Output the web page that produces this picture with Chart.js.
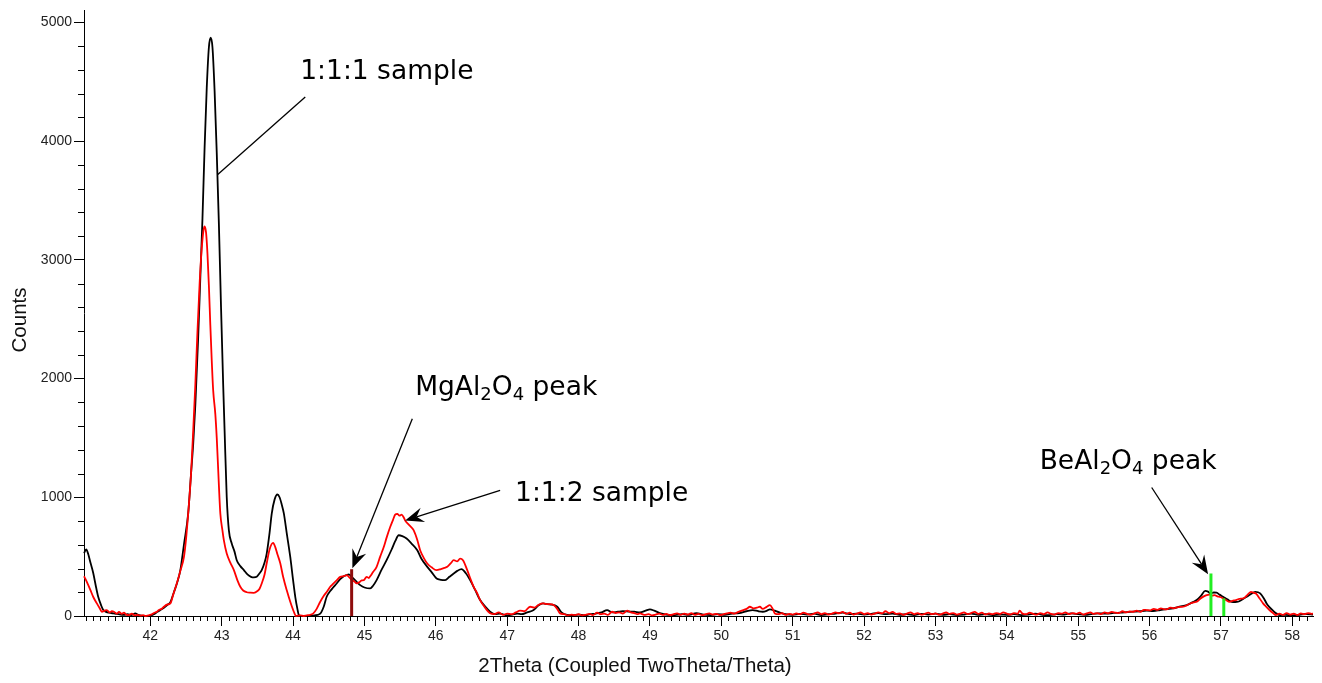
<!DOCTYPE html>
<html>
<head>
<meta charset="utf-8">
<script src="https://cdn.jsdelivr.net/npm/chart.js@4.4.1/dist/chart.umd.min.js"></script>
<style>
  html, body { margin: 0; padding: 0; background: #fff; }
  #wrap { width: 1322px; height: 683px; }
</style>
</head>
<body>
<div id="wrap"><canvas id="xrd"></canvas></div>
<script>
// 1:1:1 sample (black)
const theta111 = [41.07,41.10,41.13,41.16,41.20,41.24,41.27,41.31,41.34,41.38,41.42,41.48,41.53,41.58,41.63,41.68,41.73,41.79,41.82,41.86,41.90,41.95,42.00,42.05,42.10,42.14,42.19,42.24,42.28,42.33,42.38,42.42,42.47,42.53,42.57,42.60,42.63,42.67,42.70,42.73,42.76,42.79,42.82,42.845,42.87,42.90,42.93,42.96,42.99,43.02,43.04,43.07,43.10,43.14,43.18,43.21,43.26,43.31,43.36,43.41,43.45,43.49,43.53,43.56,43.60,43.63,43.67,43.70,43.74,43.78,43.81,43.84,43.87,43.91,43.96,44.00,44.03,44.06,44.08,44.12,44.20,44.30,44.38,44.43,44.47,44.52,44.56,44.61,44.66,44.71,44.75,44.78,44.82,44.87,44.94,45.00,45.08,45.12,45.17,45.24,45.31,45.38,45.43,45.48,45.53,45.59,45.66,45.74,45.80,45.88,45.94,46.01,46.07,46.13,46.19,46.25,46.30,46.36,46.42,46.48,46.55,46.62,46.69,46.76,46.83,46.90,47.00,47.07,47.14,47.20,47.28,47.37,47.44,47.50,47.56,47.63,47.70,47.76,47.84,47.92,48.00,48.08,48.16,48.24,48.32,48.40,48.47,48.55,48.62,48.70,48.78,48.86,48.94,49.00,49.06,49.15,49.25,49.35,49.45,49.55,49.65,49.75,49.85,49.95,50.05,50.15,50.25,50.35,50.44,50.52,50.58,50.64,50.68,50.75,50.82,50.90,51.00,51.10,51.20,51.30,51.40,51.50,51.60,51.70,51.80,51.90,52.00,52.10,52.20,52.30,52.40,52.50,52.60,52.70,52.80,52.90,53.00,53.10,53.20,53.30,53.40,53.50,53.60,53.70,53.80,53.90,54.00,54.10,54.20,54.30,54.40,54.50,54.60,54.70,54.80,54.90,55.00,55.10,55.20,55.30,55.40,55.50,55.59,55.68,55.77,55.86,55.96,56.05,56.15,56.24,56.33,56.42,56.52,56.60,56.66,56.72,56.78,56.82,56.85,56.90,56.94,56.98,57.03,57.09,57.15,57.20,57.24,57.30,57.36,57.42,57.48,57.52,57.55,57.60,57.64,57.68,57.73,57.78,57.83,57.90,58.00,58.10,58.20,58.29];
const counts111 = [528,560,520,450,360,240,160,90,50,35,28,22,18,12,10,15,8,22,12,5,0,0,2,15,35,50,70,95,117,200,290,386,600,864,1200,1450,1780,2350,2850,3350,3950,4450,4790,4870,4790,4420,3900,3300,2600,1950,1560,1000,721,610,540,470,420,386,350,330,325,330,360,386,450,526,700,861,980,1023,1000,940,864,700,497,300,162,60,8,0,0,5,20,80,162,210,240,274,310,335,344,350,330,300,260,240,232,255,302,390,470,560,630,680,672,652,610,554,480,414,370,316,305,302,330,358,380,394,360,302,220,134,80,36,15,20,5,12,20,15,30,50,90,106,100,95,78,30,10,8,12,5,15,20,30,50,30,36,40,38,36,30,45,56,45,22,10,8,15,10,25,12,8,15,10,20,25,40,50,40,36,45,56,45,28,15,10,18,12,20,8,15,20,28,15,20,12,18,25,15,20,10,15,8,18,12,20,10,15,8,12,20,10,15,8,12,10,15,8,12,20,10,8,15,12,22,15,10,18,22,20,26,28,32,36,40,45,42,50,58,64,78,92,115,134,170,212,205,190,198,196,180,162,140,120,118,120,140,162,185,204,200,190,150,106,75,45,20,8,10,5,10,17,12];

// 1:1:2 sample (red)
const theta112 = [41.07,41.10,41.13,41.16,41.20,41.25,41.29,41.32,41.36,41.39,41.43,41.46,41.49,41.53,41.56,41.60,41.63,41.66,41.70,41.74,41.78,41.82,41.86,41.90,41.93,41.97,42.01,42.05,42.09,42.12,42.16,42.19,42.23,42.28,42.32,42.37,42.42,42.47,42.50,42.53,42.57,42.60,42.63,42.66,42.69,42.72,42.745,42.76,42.78,42.80,42.82,42.84,42.86,42.88,42.91,42.93,42.96,42.98,43.01,43.03,43.07,43.12,43.17,43.22,43.26,43.30,43.35,43.40,43.45,43.50,43.53,43.56,43.60,43.63,43.67,43.72,43.75,43.78,43.82,43.86,43.91,43.96,44.01,44.04,44.10,44.15,44.22,44.28,44.33,44.38,44.43,44.48,44.52,44.56,44.61,44.66,44.71,44.75,44.78,44.82,44.86,44.89,44.93,44.96,44.99,45.03,45.06,45.08,45.12,45.17,45.22,45.27,45.31,45.36,45.40,45.43,45.46,45.49,45.52,45.55,45.57,45.62,45.66,45.69,45.74,45.78,45.83,45.88,45.94,46.01,46.07,46.12,46.16,46.21,46.25,46.30,46.34,46.38,46.44,46.48,46.53,46.58,46.62,46.69,46.76,46.82,46.88,46.94,47.00,47.06,47.12,47.18,47.24,47.32,47.38,47.44,47.51,47.56,47.60,47.65,47.70,47.74,47.80,47.85,47.90,47.95,48.00,48.05,48.10,48.15,48.20,48.26,48.31,48.36,48.41,48.47,48.52,48.57,48.62,48.68,48.73,48.78,48.82,48.86,48.92,48.98,49.03,49.08,49.13,49.18,49.23,49.28,49.33,49.38,49.43,49.48,49.53,49.58,49.63,49.68,49.73,49.78,49.83,49.88,49.93,49.98,50.03,50.08,50.13,50.18,50.24,50.31,50.36,50.40,50.45,50.50,50.54,50.58,50.63,50.68,50.72,50.75,50.80,50.85,50.90,50.95,51.00,51.05,51.10,51.15,51.20,51.25,51.30,51.35,51.40,51.45,51.50,51.55,51.60,51.65,51.70,51.75,51.80,51.85,51.90,51.95,52.00,52.05,52.10,52.15,52.20,52.25,52.30,52.35,52.40,52.45,52.50,52.55,52.60,52.65,52.70,52.75,52.80,52.85,52.90,52.95,53.00,53.05,53.10,53.15,53.20,53.25,53.30,53.35,53.40,53.45,53.50,53.55,53.60,53.65,53.70,53.75,53.80,53.85,53.90,53.95,54.00,54.05,54.10,54.15,54.18,54.22,54.27,54.32,54.37,54.42,54.47,54.52,54.57,54.62,54.67,54.72,54.77,54.82,54.87,54.92,54.97,55.02,55.07,55.12,55.17,55.22,55.27,55.32,55.37,55.42,55.47,55.52,55.57,55.62,55.67,55.72,55.77,55.82,55.87,55.92,55.96,56.01,56.06,56.11,56.16,56.20,56.24,56.29,56.34,56.40,56.47,56.52,56.57,56.62,56.66,56.71,56.76,56.80,56.84,56.88,56.91,56.95,56.99,57.03,57.07,57.12,57.16,57.21,57.26,57.31,57.36,57.42,57.46,57.49,57.54,57.59,57.64,57.68,57.73,57.77,57.82,57.87,57.92,57.97,58.02,58.07,58.12,58.17,58.22,58.27,58.29];
const counts112 = [335,300,260,218,160,106,65,36,45,50,30,40,36,20,35,18,28,12,8,20,5,10,3,8,0,5,12,25,36,50,62,78,95,106,180,274,380,497,650,864,1200,1560,1950,2400,2800,3100,3250,3280,3230,3050,2780,2450,2150,1900,1700,1500,1100,864,720,637,526,450,386,300,246,215,200,196,195,210,230,274,350,444,560,615,580,520,444,330,218,120,36,0,5,0,8,20,60,120,170,210,246,270,300,330,335,344,330,305,290,274,285,300,302,330,320,335,370,414,500,581,660,749,810,853,860,845,853,830,805,770,745,721,640,554,490,442,410,386,395,405,414,445,470,460,484,470,386,320,246,190,134,70,23,15,30,10,20,15,30,45,40,78,70,95,106,100,100,92,60,22,15,5,12,8,15,5,10,18,8,28,15,20,10,36,25,30,20,45,30,25,15,22,10,15,5,12,20,10,18,8,15,22,10,20,12,25,10,18,8,15,22,12,18,8,15,22,28,20,35,50,62,78,65,70,78,60,75,92,60,22,15,25,10,18,12,22,15,28,18,10,20,30,15,25,12,20,30,22,35,18,28,12,20,30,15,25,12,20,30,22,40,25,35,18,22,10,20,30,15,25,12,18,28,15,22,10,20,30,18,25,12,20,30,15,25,35,18,28,12,22,15,25,18,30,20,12,25,18,45,20,15,28,18,12,25,15,30,18,12,25,20,30,15,25,18,28,12,22,30,18,25,15,30,22,35,28,25,40,30,38,36,45,35,52,50,48,60,52,65,58,56,70,65,75,78,90,105,115,120,145,165,176,180,172,176,165,160,148,135,120,128,134,145,148,170,204,195,190,150,106,75,50,25,8,20,10,25,12,20,8,22,15,25,18,20];

// reference peak markers
const mgPeakTheta = [44.82];
const mgPeakCounts = [394];
const bePeakTheta = [56.86, 57.04];
const bePeakCounts = [358, 148];

// axis ticks
const xTickValues = [42,43,44,45,46,47,48,49,50,51,52,53,54,55,56,57,58];
const yTickValues = [0,1000,2000,3000,4000,5000];

// annotation texts, anchored in data units
const notes = [
  { parts: [['1:1:1 sample', 0]], at: [44.10, 4580], from: [44.17, 4371], to: [42.94, 3716], head: false },
  { parts: [['MgAl', 0], ['2', 1], ['O', 0], ['4', 1], [' peak', 0]], at: [45.71, 1921], from: [45.67, 1661], to: [44.83, 403], head: true },
  { parts: [['1:1:2 sample', 0]], at: [47.11, 1023], from: [46.90, 1057], to: [45.57, 805], head: true },
  { parts: [['BeAl', 0], ['2', 1], ['O', 0], ['4', 1], [' peak', 0]], at: [54.46, 1292], from: [56.03, 1082], to: [56.82, 352], head: true }
];

function pairs(xs, ys) {
  return xs.map(function(x, i) { return { x: x, y: ys[i] }; });
}

function stick(x, y) {
  return [{ x: x, y: 0 }, { x: x, y: y }];
}

var minorTicks = {
  id: 'minorTicks',
  afterDraw: function(chart) {
    var ctx = chart.ctx;
    var xs = chart.scales.x, ys = chart.scales.y;
    var area = chart.chartArea;
    ctx.save();
    ctx.strokeStyle = '#000';
    ctx.lineWidth = 1;
    ctx.beginPath();
    for (var i = 411; i <= 582; i++) {
      if (i % 10 == 0) continue;
      var px = Math.round(xs.getPixelForValue(i / 10)) + 0.5;
      ctx.moveTo(px, area.bottom);
      ctx.lineTo(px, area.bottom + 5);
    }
    for (var j = 200; j <= 5000; j += 200) {
      if (j % 1000 == 0) continue;
      var py = Math.round(ys.getPixelForValue(j)) + 0.5;
      ctx.moveTo(area.left, py);
      ctx.lineTo(area.left - 6, py);
    }
    ctx.stroke();
    ctx.restore();
  }
};

var notesPlugin = {
  id: 'notes',
  afterDraw: function(chart) {
    var ctx = chart.ctx;
    var xs = chart.scales.x, ys = chart.scales.y;
    ctx.save();
    ctx.fillStyle = '#000';
    ctx.strokeStyle = '#000';
    ctx.lineWidth = 1.3;
    notes.forEach(function(n) {
      var x0 = xs.getPixelForValue(n.from[0]), y0 = ys.getPixelForValue(n.from[1]);
      var x1 = xs.getPixelForValue(n.to[0]), y1 = ys.getPixelForValue(n.to[1]);
      var ang = Math.atan2(y1 - y0, x1 - x0);
      var len = n.head ? 20 : 0;
      ctx.beginPath();
      ctx.moveTo(x0, y0);
      ctx.lineTo(x1 - Math.cos(ang) * len * 0.6, y1 - Math.sin(ang) * len * 0.6);
      ctx.stroke();
      if (n.head) {
        ctx.beginPath();
        ctx.moveTo(x1, y1);
        ctx.lineTo(x1 - Math.cos(ang - 0.38) * len, y1 - Math.sin(ang - 0.38) * len);
        ctx.lineTo(x1 - Math.cos(ang) * len * 0.6, y1 - Math.sin(ang) * len * 0.6);
        ctx.lineTo(x1 - Math.cos(ang + 0.38) * len, y1 - Math.sin(ang + 0.38) * len);
        ctx.closePath();
        ctx.fill();
      }
      var tx = xs.getPixelForValue(n.at[0]), ty = ys.getPixelForValue(n.at[1]);
      ctx.textBaseline = 'middle';
      ctx.textAlign = 'left';
      n.parts.forEach(function(p) {
        if (p[1]) {
          ctx.font = '18px "DejaVu Sans"';
          ctx.fillText(p[0], tx, ty + 7);
        } else {
          ctx.font = '26.5px "DejaVu Sans"';
          ctx.fillText(p[0], tx, ty);
        }
        tx += ctx.measureText(p[0]).width;
      });
    });
    // axis titles
    ctx.font = '20.5px "Liberation Sans"';
    ctx.fillStyle = '#111';
    ctx.textAlign = 'center';
    ctx.textBaseline = 'middle';
    ctx.fillText('2Theta (Coupled TwoTheta/Theta)', 635, 666);
    ctx.translate(20, 320);
    ctx.rotate(-Math.PI / 2);
    ctx.fillText('Counts', 0, 0);
    ctx.restore();
  }
};

window.onload = function() {
  var ctx = document.getElementById('xrd').getContext('2d');
  new Chart(ctx, {
    type: 'line',
    data: {
      datasets: [
        { label: 'MgAl2O4', data: stick(mgPeakTheta[0], mgPeakCounts[0]), borderColor: '#8e0c0c', borderWidth: 3, order: 0 },
        { label: 'BeAl2O4 a', data: stick(bePeakTheta[0], bePeakCounts[0]), borderColor: '#22ee22', borderWidth: 3, order: 0 },
        { label: 'BeAl2O4 b', data: stick(bePeakTheta[1], bePeakCounts[1]), borderColor: '#22ee22', borderWidth: 3, order: 0 },
        { label: '1:1:2 sample', data: pairs(theta112, counts112), borderColor: '#ff0000', borderWidth: 1.8, order: 1, cubicInterpolationMode: 'monotone' },
        { label: '1:1:1 sample', data: pairs(theta111, counts111), borderColor: '#000000', borderWidth: 1.8, order: 2, cubicInterpolationMode: 'monotone' }
      ]
    },
    options: {
      responsive: true,
      maintainAspectRatio: false,
      animation: false,
      clip: false,
      elements: { point: { radius: 0 }, line: { borderCapStyle: 'butt' } },
      layout: { padding: { top: 8, right: 9, left: 0, bottom: 0 } },
      plugins: { legend: { display: false }, tooltip: { enabled: false } },
      scales: {
        x: {
          type: 'linear',
          min: 41.07,
          max: 58.29,
          afterFit: function(scale) { scale.height = 67; },
          afterBuildTicks: function(scale) { scale.ticks = xTickValues.map(function(v) { return { value: v }; }); },
          grid: { display: true, drawOnChartArea: false, drawTicks: true, tickLength: 10, color: '#000' },
          border: { display: true, color: '#000', width: 1 },
          ticks: { color: '#222', font: { family: 'Liberation Sans', size: 14 }, padding: 2, maxRotation: 0, autoSkip: false,
                   callback: function(v) { return String(v); } }
        },
        y: {
          type: 'linear',
          min: 0,
          max: 5100,
          afterFit: function(scale) { scale.width = 84; },
          afterBuildTicks: function(scale) { scale.ticks = yTickValues.map(function(v) { return { value: v }; }); },
          grid: { display: true, drawOnChartArea: false, drawTicks: true, tickLength: 10, color: '#000' },
          border: { display: true, color: '#000', width: 1 },
          ticks: { color: '#222', font: { family: 'Liberation Sans', size: 14 }, padding: 2, autoSkip: false,
                   callback: function(v) { return String(v); } }
        }
      }
    },
    plugins: [minorTicks, notesPlugin]
  });
};
</script>
</body>
</html>
